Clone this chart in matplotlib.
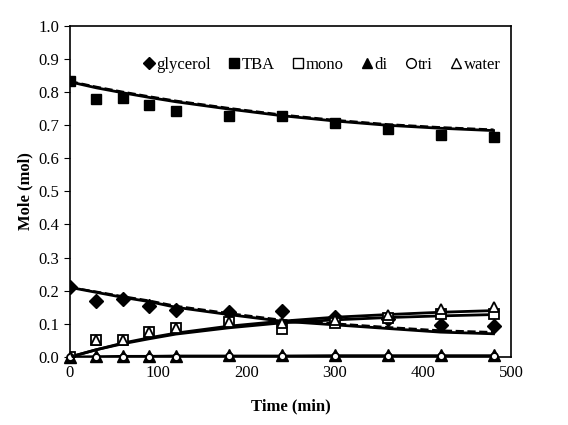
import matplotlib.pyplot as plt
from matplotlib.lines import Line2D

plt.rcParams['font.family'] = ['Liberation Serif', 'DejaVu Serif']

# experimental points
time = [0, 30, 60, 90, 120, 180, 240, 300, 360, 420, 480]
glycerol = [0.21, 0.169, 0.175, 0.155, 0.142, 0.136, 0.138, 0.122, 0.115, 0.097, 0.095]
tba = [0.833, 0.778, 0.782, 0.759, 0.743, 0.727, 0.727, 0.706, 0.687, 0.671, 0.664]
mono = [0.0, 0.052, 0.05, 0.074, 0.086, 0.106, 0.085, 0.102, 0.119, 0.13, 0.13]
di = [0.0, 0.002, 0.003, 0.004, 0.004, 0.005, 0.005, 0.006, 0.006, 0.006, 0.007]
tri = [0.0, 0.0, 0.001, 0.001, 0.001, 0.002, 0.002, 0.002, 0.003, 0.003, 0.003]
water = [0.0, 0.052, 0.05, 0.074, 0.086, 0.106, 0.103, 0.112, 0.126, 0.145, 0.15]

# model curves (solid and dashed)
tba_fit = [0.83, 0.812, 0.797, 0.783, 0.77, 0.748, 0.728, 0.712, 0.699, 0.69, 0.683]
tba_fit2 = [0.832, 0.815, 0.8, 0.786, 0.773, 0.751, 0.731, 0.715, 0.702, 0.693, 0.686]
gly_fit = [0.21, 0.195, 0.18, 0.167, 0.15, 0.128, 0.108, 0.097, 0.086, 0.075, 0.07]
gly_fit2 = [0.21, 0.197, 0.183, 0.17, 0.154, 0.132, 0.112, 0.101, 0.09, 0.08, 0.075]
mono_fit = [0.0, 0.022, 0.04, 0.055, 0.069, 0.088, 0.103, 0.112, 0.119, 0.124, 0.128]
water_fit = [0.0, 0.022, 0.042, 0.058, 0.072, 0.093, 0.108, 0.12, 0.128, 0.135, 0.14]
low_fit = [0.0, 0.001, 0.002, 0.002, 0.003, 0.003, 0.003, 0.004, 0.004, 0.004, 0.004]

fig = plt.figure(figsize=(5.68, 4.25), dpi=100)
ax = fig.add_axes([0.123, 0.16, 0.777, 0.78])

for fit in [tba_fit, gly_fit, mono_fit, water_fit, low_fit]:
    ax.plot(time, fit, color='black', lw=2.0, zorder=2)
for fit in [tba_fit2, gly_fit2]:
    ax.plot(time, fit, color='black', lw=1.6, ls='--', zorder=2)

ms = 7
ax.plot(time, glycerol, 'D', color='black', ms=ms, ls='none', zorder=3)
ax.plot(time, tba, 's', color='black', ms=ms, ls='none', zorder=3)
ax.plot(time, mono, 's', mfc='white', mec='black', mew=1.3, ms=ms, ls='none', zorder=3)
ax.plot(time, di, '^', color='black', ms=ms + 1, ls='none', zorder=3, clip_on=False)
ax.plot(time, tri, 'o', mfc='white', mec='black', mew=1.3, ms=ms - 2, ls='none', zorder=4, clip_on=False)
ax.plot(time, water, '^', mfc='white', mec='black', mew=1.3, ms=ms, ls='none', zorder=4)

handles = [
    Line2D([], [], marker='D', color='black', ls='none', ms=6),
    Line2D([], [], marker='s', color='black', ls='none', ms=7),
    Line2D([], [], marker='s', mfc='white', mec='black', ls='none', ms=7),
    Line2D([], [], marker='^', color='black', ls='none', ms=7),
    Line2D([], [], marker='o', mfc='white', mec='black', ls='none', ms=7),
    Line2D([], [], marker='^', mfc='white', mec='black', ls='none', ms=7),
]
labels = ['glycerol', 'TBA', 'mono', 'di', 'tri', 'water']
ax.legend(handles, labels, ncol=6, frameon=False, loc='upper right',
          bbox_to_anchor=(1.01, 0.95), handlelength=0.6, handletextpad=0.15,
          columnspacing=1.1, fontsize=12)

ax.set_xlim(0, 500)
ax.set_ylim(0, 1.0)
ax.set_xticks(range(0, 501, 100))
ax.set_yticks([i / 10 for i in range(11)])
ax.yaxis.set_major_formatter(plt.FormatStrFormatter('%.1f'))
ax.tick_params(axis='x', length=0, pad=6, labelsize=12)
ax.tick_params(axis='y', direction='out', length=4, labelsize=12)
for s in ax.spines.values():
    s.set_linewidth(1.2)

ax.set_xlabel('Time (min)', fontweight='bold', fontsize=12, labelpad=12)
ax.set_ylabel('Mole (mol)', fontweight='bold', fontsize=12)

fig.savefig('out.png', dpi=100)
